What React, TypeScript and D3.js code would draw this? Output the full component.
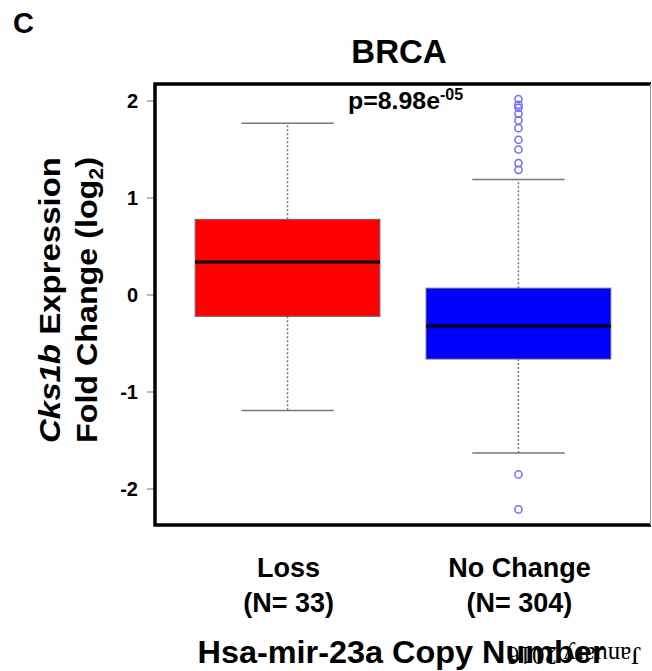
import React from "react";
import * as d3 from "d3";

const categories = ["Loss", "No Change"];
const counts = ["(N= 33)", "(N= 304)"];
const boxColors = ["#ff0000", "#0000ff"];
// five-number summaries: lower whisker, q1, median, q3, upper whisker
const lowWhisker = [-1.19, -1.63];
const q1 = [-0.22, -0.66];
const medians = [0.34, -0.32];
const q3 = [0.78, 0.07];
const highWhisker = [1.77, 1.19];
const outliersLoss: number[] = [];
const outliersNoChange = [2.02, 1.96, 1.93, 1.87, 1.8, 1.72, 1.6, 1.5, 1.36, 1.29, -1.85, -2.21];
const yTicks = [-2, -1, 0, 1, 2];

const W = 652;
const H = 671;
const plot = { left: 155, right: 651, top: 84, bottom: 525 };
const font = "'Liberation Sans', Arial, sans-serif";

export default function App() {
  const y = d3.scaleLinear().domain([-2.371, 2.175]).range([plot.bottom, plot.top]);
  const x = d3.scalePoint().domain(categories).range([plot.left, plot.right]).padding(0.574);
  const step = x.step();
  const boxW = step * 0.8;
  const capW = step * 0.4;
  const outliers = [outliersLoss, outliersNoChange];
  const midY = 300;

  return (
    <svg width={W} height={H} style={{ position: "absolute", left: 0, top: 0, background: "#fff" }} fontFamily={font}>
      <rect width={W} height={H} fill="#fff" />
      <text x={13} y={33} fontSize={29} fontWeight="bold">C</text>
      <text x={399} y={63} fontSize={33} fontWeight="bold" textAnchor="middle">BRCA</text>

      {categories.map((c, i) => {
        const cx = x(c)!;
        return (
          <g key={c}>
            <line x1={cx} x2={cx} y1={y(q3[i])} y2={y(highWhisker[i])} stroke="#777" strokeWidth={1.5} strokeDasharray="2,2" />
            <line x1={cx} x2={cx} y1={y(q1[i])} y2={y(lowWhisker[i])} stroke="#777" strokeWidth={1.5} strokeDasharray="2,2" />
            <line x1={cx - capW / 2} x2={cx + capW / 2} y1={y(highWhisker[i])} y2={y(highWhisker[i])} stroke="#777" strokeWidth={1.5} />
            <line x1={cx - capW / 2} x2={cx + capW / 2} y1={y(lowWhisker[i])} y2={y(lowWhisker[i])} stroke="#777" strokeWidth={1.5} />
            <rect x={cx - boxW / 2} y={y(q3[i])} width={boxW} height={y(q1[i]) - y(q3[i])} fill={boxColors[i]} stroke="#666" strokeWidth={1} />
            <line x1={cx - boxW / 2} x2={cx + boxW / 2} y1={y(medians[i])} y2={y(medians[i])} stroke="#000" strokeWidth={3} />
            {outliers[i].map((v, j) => (
              <circle key={j} cx={cx} cy={y(v)} r={3.6} fill="none" stroke="#6b6bff" strokeWidth={1.5} />
            ))}
            <text x={cx + 1} y={577} fontSize={27} fontWeight="bold" textAnchor="middle">{c}</text>
            <text x={cx + 1} y={612} fontSize={27} fontWeight="bold" textAnchor="middle">{counts[i]}</text>
          </g>
        );
      })}

      {yTicks.map((t) => (
        <g key={t}>
          <line x1={plot.left - 8} x2={plot.left} y1={y(t)} y2={y(t)} stroke="#888" strokeWidth={1.2} />
          <text x={138} y={y(t) + 7} fontSize={20} fontWeight="bold" textAnchor="end">{t}</text>
        </g>
      ))}

      {/* frame: thick left, top, bottom; thin clipped right edge */}
      <path d={`M${plot.right},${plot.top}H${plot.left}V${plot.bottom}H${plot.right}`} fill="none" stroke="#000" strokeWidth={3.5} />
      <line x1={plot.right - 0.5} x2={plot.right - 0.5} y1={plot.top} y2={plot.bottom} stroke="#999" strokeWidth={1} />

      <text x={348} y={109} fontSize={23} fontWeight="bold">
        <tspan textLength={92} lengthAdjust="spacingAndGlyphs">p=8.98e</tspan>
        <tspan dy={-9} fontSize={16}>-05</tspan>
      </text>

      <g transform={`translate(60,${midY}) rotate(-90)`}>
        <text x={0} y={0} fontSize={30} fontWeight="bold" textAnchor="middle" textLength={286} lengthAdjust="spacingAndGlyphs">
          <tspan fontStyle="italic">Cks1b</tspan> Expression
        </text>
      </g>
      <g transform={`translate(97,${midY}) rotate(-90)`}>
        <text x={0} y={0} fontSize={30} fontWeight="bold" textAnchor="middle" textLength={286} lengthAdjust="spacingAndGlyphs">
          Fold Change (log<tspan dy={6} fontSize={20}>2</tspan><tspan dy={-6}>)</tspan>
        </text>
      </g>

      <text x={401} y={663} fontSize={32} fontWeight="bold" textAnchor="middle" textLength={407} lengthAdjust="spacingAndGlyphs">Hsa-mir-23a Copy Number</text>
      <text x={574} y={647} fontSize={25} fontFamily="'Liberation Serif', serif" textAnchor="middle" transform="rotate(180,574,647)">January 2016</text>
    </svg>
  );
}
